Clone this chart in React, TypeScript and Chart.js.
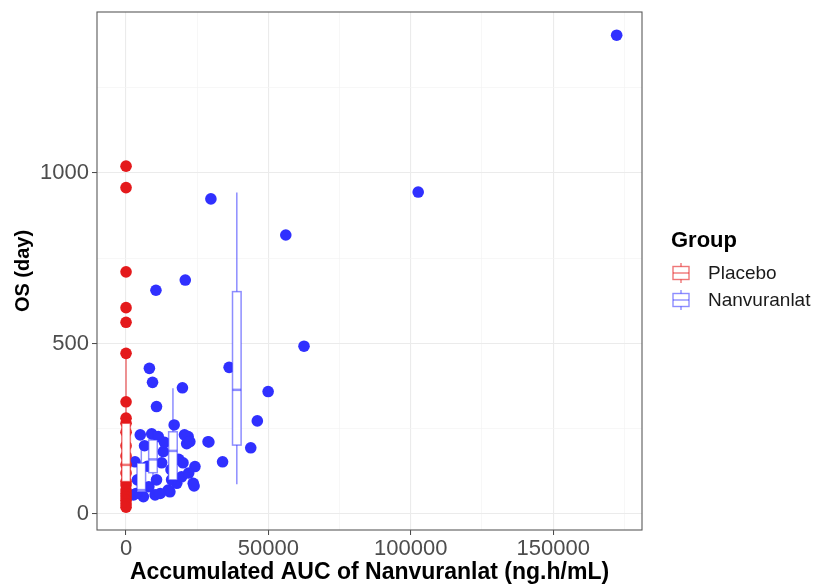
import React, { useEffect, useRef } from 'react';
import { Chart, registerables } from 'chart.js';

Chart.register(...registerables);

// ---- Data ----
const PLACEBO_AUC = [0, 0, 0, 0, 0, 0, 0, 0, 0, 0, 0, 0, 0, 0, 0, 0, 0, 0, 0, 0, 0, 0];
const PLACEBO_OS = [1020, 957, 710, 605, 562, 471, 329, 281, 266, 240, 200, 170, 144, 120, 95, 85, 70, 60, 50, 40, 30, 20];

const NANV_AUC = [
  172300, 102600, 29800, 56100, 20800, 10500, 62500, 49900, 36200, 19800,
  8200, 9300, 10700, 16900, 46100, 43800, 29100, 33900, 24200, 23900,
  21800, 21300, 20500, 15400, 17800, 19500, 13100, 5000, 9000, 11300,
  3150, 2600, 6100, 10200, 14800, 10700, 23600, 12500, 7500, 4000,
  8000, 15800, 18500, 3500, 12000, 6500, 13500, 16000, 20000, 22000,
  22400, 28800,
];
const NANV_OS = [
  1404, 944, 924, 818, 686, 656, 492, 359, 430, 370,
  427, 386, 315, 261, 273, 194, 211, 153, 139, 82,
  227, 206, 232, 65, 90, 109, 183, 232, 235, 227,
  153, 56, 51, 56, 70, 100, 90, 150, 140, 100,
  80, 130, 160, 60, 60, 200, 210, 100, 150, 120,
  212, 212,
];

// Boxplot summaries (one per box)
const BOX_GROUP = ['Placebo', 'Nanvuranlat', 'Nanvuranlat', 'Nanvuranlat', 'Nanvuranlat'];
const BOX_X = [0, 5360, 9460, 16470, 38900];
const BOX_LOW = [18, 51, 56, 51, 87];
const BOX_Q1 = [95, 65, 121, 100, 202];
const BOX_MED = [144, 70, 160, 185, 364];
const BOX_Q3 = [266, 149, 217, 241, 652];
const BOX_HIGH = [471, 207, 241, 369, 943];

const X_TICKS = [0, 50000, 100000, 150000];
const X_MINOR = [25000, 75000, 125000, 175000];
const Y_TICKS = [0, 500, 1000];
const Y_MINOR = [250, 750, 1250];

const GROUPS = ['Placebo', 'Nanvuranlat'];
const POINT_COLORS: Record<string, string> = { Placebo: '#E41A1C', Nanvuranlat: '#3030FF' };
const BOX_COLORS: Record<string, string> = {
  Placebo: 'rgba(228,26,28,0.6)',
  Nanvuranlat: 'rgba(48,48,255,0.55)',
};

const FONT = "'Liberation Sans', Arial, Helvetica, sans-serif";

const boxPlugin = {
  id: 'boxes',
  afterDatasetsDraw(chart: any) {
    const { ctx, scales, chartArea } = chart;
    const xs = scales.x;
    const ys = scales.y;
    const half = 4.3;
    ctx.save();
    ctx.beginPath();
    ctx.rect(chartArea.left, chartArea.top, chartArea.right - chartArea.left, chartArea.bottom - chartArea.top);
    ctx.clip();
    for (let i = 0; i < BOX_X.length; i++) {
      const c = BOX_COLORS[BOX_GROUP[i]];
      const px = xs.getPixelForValue(BOX_X[i]);
      const yLow = ys.getPixelForValue(BOX_LOW[i]);
      const yQ1 = ys.getPixelForValue(BOX_Q1[i]);
      const yMed = ys.getPixelForValue(BOX_MED[i]);
      const yQ3 = ys.getPixelForValue(BOX_Q3[i]);
      const yHigh = ys.getPixelForValue(BOX_HIGH[i]);
      ctx.strokeStyle = c;
      ctx.lineWidth = 1.5;
      ctx.beginPath();
      ctx.moveTo(px, yLow);
      ctx.lineTo(px, yQ1);
      ctx.moveTo(px, yQ3);
      ctx.lineTo(px, yHigh);
      ctx.stroke();
      ctx.fillStyle = '#FFFFFF';
      ctx.fillRect(px - half, yQ3, half * 2, yQ1 - yQ3);
      ctx.strokeRect(px - half, yQ3, half * 2, yQ1 - yQ3);
      ctx.lineWidth = 2.5;
      ctx.beginPath();
      ctx.moveTo(px - half, yMed);
      ctx.lineTo(px + half, yMed);
      ctx.stroke();
    }
    ctx.restore();
  },
  afterDraw(chart: any) {
    const { ctx, chartArea } = chart;
    ctx.save();
    ctx.strokeStyle = '#5a5a5a';
    ctx.lineWidth = 1.1;
    ctx.strokeRect(chartArea.left, chartArea.top, chartArea.right - chartArea.left, chartArea.bottom - chartArea.top);

    // Legend
    const lx = 671;
    ctx.fillStyle = '#000000';
    ctx.font = `bold 22px ${FONT}`;
    ctx.textAlign = 'left';
    ctx.textBaseline = 'alphabetic';
    ctx.fillText('Group', lx, 247);
    const rows = [273, 300];
    GROUPS.forEach((g, i) => {
      const cy = rows[i];
      const cx = lx + 10;
      ctx.strokeStyle = BOX_COLORS[g];
      ctx.lineWidth = 1.4;
      ctx.beginPath();
      ctx.moveTo(cx, cy - 10);
      ctx.lineTo(cx, cy - 6.5);
      ctx.moveTo(cx, cy + 6.5);
      ctx.lineTo(cx, cy + 10);
      ctx.stroke();
      ctx.strokeRect(cx - 8, cy - 6.5, 16, 13);
      ctx.beginPath();
      ctx.moveTo(cx - 8, cy);
      ctx.lineTo(cx + 8, cy);
      ctx.stroke();
      ctx.fillStyle = '#1a1a1a';
      ctx.font = `19px ${FONT}`;
      ctx.textBaseline = 'middle';
      ctx.fillText(g, lx + 37, cy + 1);
    });
    ctx.restore();
  },
};

export default function App() {
  const ref = useRef<HTMLCanvasElement | null>(null);

  useEffect(() => {
    if (!ref.current) return;
    const allX = [...X_TICKS, ...X_MINOR].sort((a, b) => a - b);
    const allY = [...Y_TICKS, ...Y_MINOR].sort((a, b) => a - b);
    const isMajorX = (v: number) => X_TICKS.includes(v);
    const isMajorY = (v: number) => Y_TICKS.includes(v);

    const chart = new Chart(ref.current, {
      type: 'scatter',
      data: {
        datasets: [
          {
            label: 'Placebo',
            data: PLACEBO_AUC.map((x, i) => ({ x, y: PLACEBO_OS[i] })),
            backgroundColor: POINT_COLORS.Placebo,
            borderWidth: 0,
            pointRadius: 5.8,
          },
          {
            label: 'Nanvuranlat',
            data: NANV_AUC.map((x, i) => ({ x, y: NANV_OS[i] })),
            backgroundColor: POINT_COLORS.Nanvuranlat,
            borderWidth: 0,
            pointRadius: 5.8,
          },
        ],
      },
      options: {
        responsive: false,
        animation: false,
        devicePixelRatio: 1,
        layout: { padding: { top: 12, right: 175, bottom: 0, left: 0 } },
        plugins: {
          legend: { display: false },
          tooltip: { enabled: false },
        },
        scales: {
          x: {
            type: 'linear',
            min: -10200,
            max: 181200,
            afterBuildTicks: (scale: any) => {
              scale.ticks = allX.map((v) => ({ value: v }));
            },
            afterFit: (scale: any) => {
              scale.height = 56;
              scale.paddingLeft = 0;
              scale.paddingRight = 0;
            },
            ticks: {
              autoSkip: false,
              maxRotation: 0,
              padding: 1,
              color: '#4D4D4D',
              font: { family: FONT, size: 22 },
              callback: (v: any) => (isMajorX(Number(v)) ? String(v) : ''),
            },
            grid: {
              color: (ctx: any) => (isMajorX(ctx.tick?.value) ? '#EBEBEB' : '#F4F4F4'),
              lineWidth: (ctx: any) => (isMajorX(ctx.tick?.value) ? 1.1 : 0.7),
              tickColor: (ctx: any) => (isMajorX(ctx.tick?.value) ? '#444444' : 'rgba(0,0,0,0)'),
              tickLength: 5,
              tickWidth: 1,
            },
            border: { display: false },
            title: {
              display: true,
              text: 'Accumulated AUC of Nanvuranlat (ng.h/mL)',
              color: '#000000',
              font: { family: FONT, size: 23, weight: 'bold' },
              padding: { top: 0, bottom: 0 },
            },
          },
          y: {
            type: 'linear',
            min: -47,
            max: 1472,
            afterBuildTicks: (scale: any) => {
              scale.ticks = allY.map((v) => ({ value: v }));
            },
            afterFit: (scale: any) => {
              scale.width = 97;
              scale.paddingTop = 0;
              scale.paddingBottom = 0;
            },
            ticks: {
              autoSkip: false,
              padding: 3,
              color: '#4D4D4D',
              font: { family: FONT, size: 22 },
              callback: (v: any) => (isMajorY(Number(v)) ? String(v) : ''),
            },
            grid: {
              color: (ctx: any) => (isMajorY(ctx.tick?.value) ? '#EBEBEB' : '#F4F4F4'),
              lineWidth: (ctx: any) => (isMajorY(ctx.tick?.value) ? 1.1 : 0.7),
              tickColor: (ctx: any) => (isMajorY(ctx.tick?.value) ? '#444444' : 'rgba(0,0,0,0)'),
              tickLength: 5,
              tickWidth: 1,
            },
            border: { display: false },
            title: {
              display: true,
              text: 'OS (day)',
              color: '#000000',
              font: { family: FONT, size: 20, weight: 'bold' },
              padding: { top: 11, bottom: 0 },
            },
          },
        },
      } as any,
      plugins: [boxPlugin],
    });
    return () => chart.destroy();
  }, []);

  return (
    <div style={{ position: 'fixed', left: 0, top: 0, width: 817, height: 586, background: '#FFFFFF' }}>
      <canvas ref={ref} width={817} height={586} style={{ width: 817, height: 586, display: 'block' }} />
    </div>
  );
}
